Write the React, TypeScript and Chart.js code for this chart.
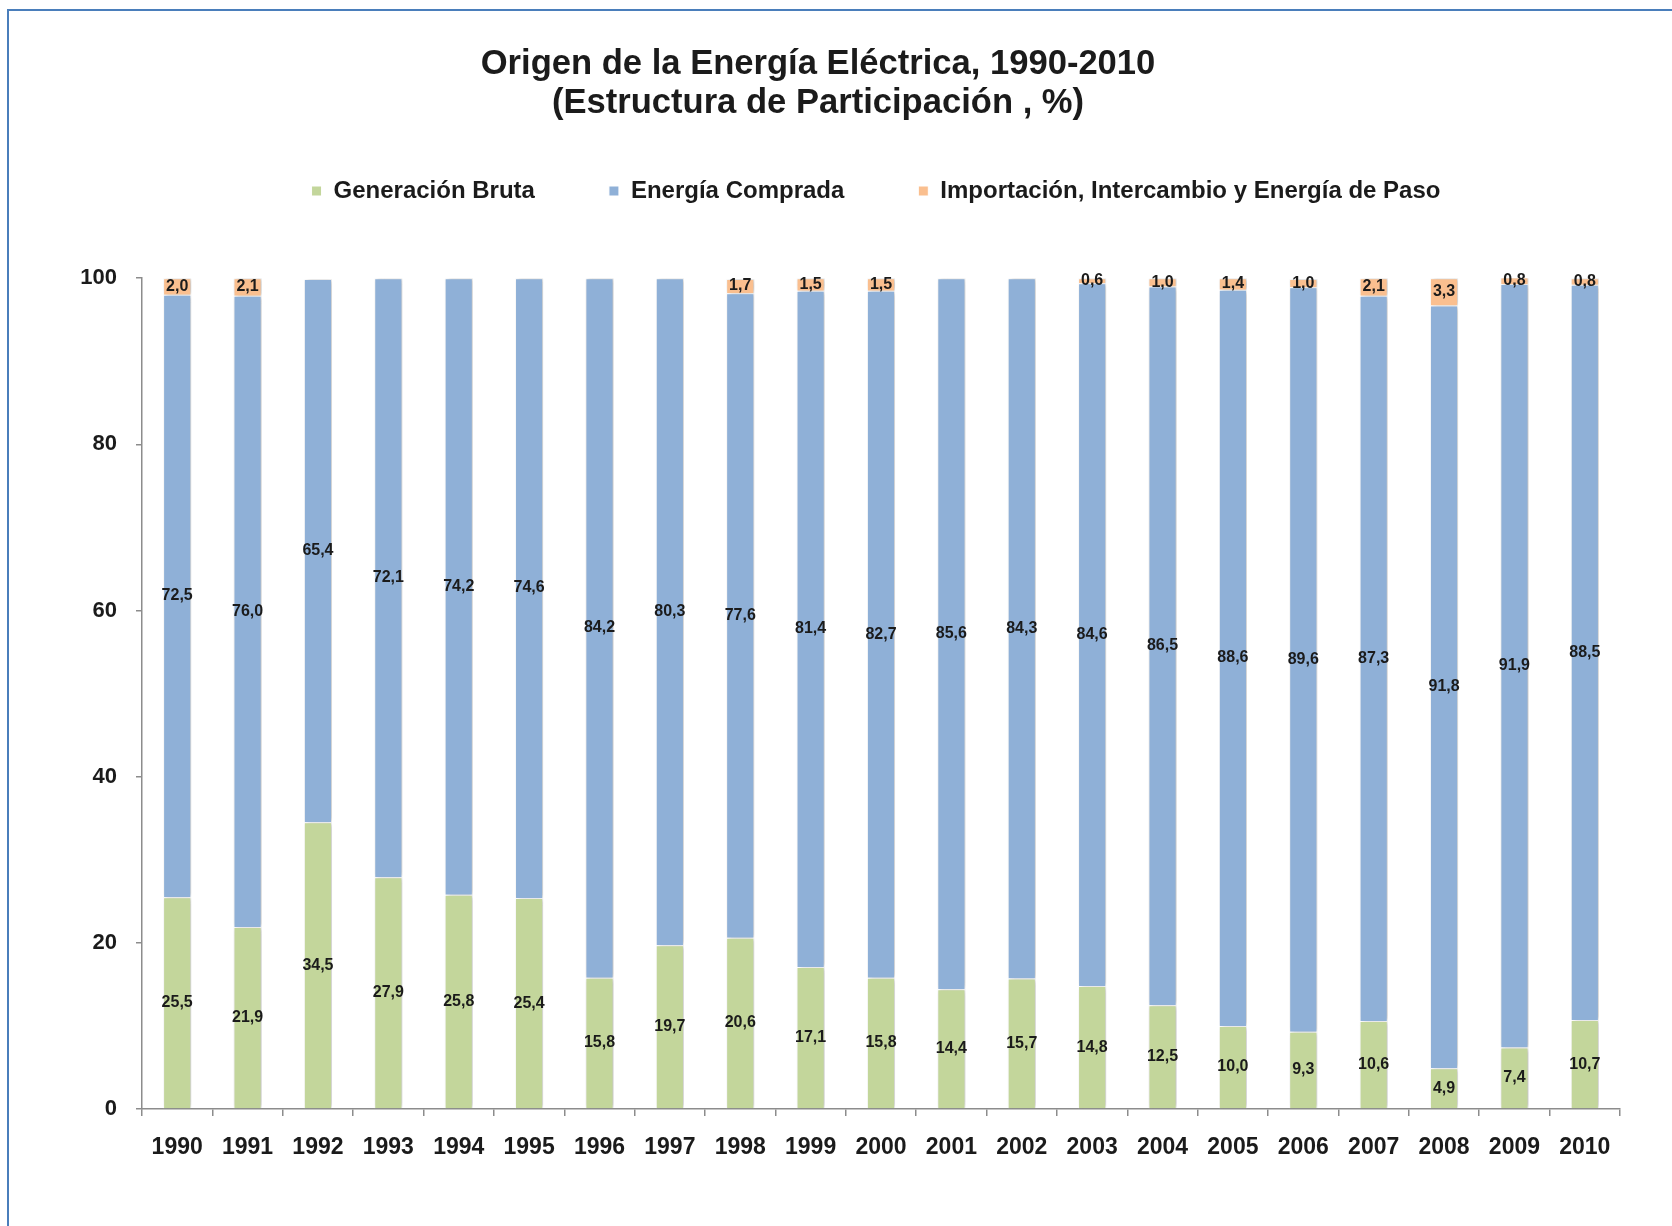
import React, { useEffect, useRef } from 'react';
import { Chart, registerables } from 'chart.js';

Chart.register(...registerables);

const years = ['1990', '1991', '1992', '1993', '1994', '1995', '1996', '1997', '1998', '1999', '2000', '2001', '2002', '2003', '2004', '2005', '2006', '2007', '2008', '2009', '2010'];
const generacionBruta = [25.5, 21.9, 34.5, 27.9, 25.8, 25.4, 15.8, 19.7, 20.6, 17.1, 15.8, 14.4, 15.7, 14.8, 12.5, 10.0, 9.3, 10.6, 4.9, 7.4, 10.7];
const energiaComprada = [72.5, 76.0, 65.4, 72.1, 74.2, 74.6, 84.2, 80.3, 77.6, 81.4, 82.7, 85.6, 84.3, 84.6, 86.5, 88.6, 89.6, 87.3, 91.8, 91.9, 88.5];
const importacion = [2.0, 2.1, null, null, null, null, null, null, 1.7, 1.5, 1.5, null, null, 0.6, 1.0, 1.4, 1.0, 2.1, 3.3, 0.8, 0.8];
const seriesNames = ['Generación Bruta', 'Energía Comprada', 'Importación, Intercambio y Energía de Paso'];
const titleLines = ['Origen de la Energía Eléctrica, 1990-2010', '(Estructura de Participación , %)'];

const FONT = "'Liberation Sans', Arial, Helvetica, sans-serif";
const TEXT = '#1b1b1b';

const shadowPlugin = {
  id: 'barShadow',
  beforeDatasetsDraw(chart: any) {
    const ctx = chart.ctx;
    ctx.save();
    ctx.shadowColor = 'rgba(0,0,0,0.26)';
    ctx.shadowBlur = 5;
    ctx.shadowOffsetX = 2;
    ctx.shadowOffsetY = 0;
  },
  afterDatasetsDraw(chart: any) {
    chart.ctx.restore();
  },
};

const valueLabels = {
  id: 'valueLabels',
  afterDatasetsDraw(chart: any) {
    const ctx = chart.ctx;
    ctx.save();
    ctx.font = `bold 16px ${FONT}`;
    ctx.fillStyle = TEXT;
    ctx.textAlign = 'center';
    ctx.textBaseline = 'middle';
    chart.data.datasets.forEach((ds: any, di: number) => {
      const meta = chart.getDatasetMeta(di);
      meta.data.forEach((bar: any, i: number) => {
        const v = ds.data[i];
        if (v === null || v === undefined) return;
        const { x, y, base } = bar.getProps(['x', 'y', 'base'], true);
        ctx.fillText(v.toFixed(1).replace('.', ','), x, (y + base) / 2);
      });
    });
    ctx.restore();
  },
};

const legendPlacer = {
  id: 'legendPlacer',
  afterLayout(chart: any) {
    const lg = chart.legend;
    if (!lg) return;
    const pad = lg.options.labels.padding;
    const fs = lg.options.labels.font.size;
    const w = lg.right - lg.left;
    const h = lg.bottom - lg.top;
    const cx = 876;
    const cy = 191;
    lg.left = cx - w / 2;
    lg.right = lg.left + w;
    lg.top = cy - pad - fs / 2;
    lg.bottom = lg.top + h;
  },
};

export default function App() {
  const ref = useRef<HTMLCanvasElement | null>(null);

  useEffect(() => {
    if (!ref.current) return;
    const chart = new Chart(ref.current, {
      type: 'bar',
      data: {
        labels: years,
        datasets: [
          { label: seriesNames[0], data: generacionBruta, backgroundColor: '#C3D69B', borderColor: '#FFFFFF', borderWidth: 1 },
          { label: seriesNames[1], data: energiaComprada, backgroundColor: '#8FB0D7', borderColor: '#FFFFFF', borderWidth: 1 },
          { label: seriesNames[2], data: importacion, backgroundColor: '#FABF8F', borderColor: '#FFFFFF', borderWidth: 1 },
        ],
      },
      options: {
        responsive: false,
        animation: false,
        events: [],
        datasets: { bar: { barPercentage: 0.4, categoryPercentage: 1 } },
        layout: { padding: { left: 16, right: 52, top: 0, bottom: 0 } },
        plugins: {
          title: {
            display: true,
            text: titleLines,
            color: TEXT,
            font: { family: FONT, size: 34.6, weight: 'bold', lineHeight: 1.13 },
            padding: { top: 44.5, bottom: 47.5 },
          },
          legend: {
            display: true,
            position: 'top',
            labels: {
              color: TEXT,
              font: { family: FONT, size: 24, weight: 'bold' },
              boxWidth: 10,
              boxHeight: 10,
              padding: 74,
            },
          },
          tooltip: { enabled: false },
        },
        scales: {
          x: {
            stacked: true,
            grid: { display: true, drawOnChartArea: false, drawTicks: true, tickLength: 7, color: '#8C8C8C', lineWidth: 1.5 },
            border: { display: true, color: '#8C8C8C', width: 1.5 },
            ticks: { color: TEXT, font: { family: FONT, size: 23, weight: 'bold' }, padding: 18, maxRotation: 0, autoSkip: false },
            afterFit(scale: any) { scale.height = 117; },
          },
          y: {
            stacked: true,
            min: 0,
            max: 100,
            grid: { display: true, drawOnChartArea: false, drawTicks: true, tickLength: 6, color: '#8C8C8C', lineWidth: 1.5 },
            border: { display: true, color: '#8C8C8C', width: 1.5 },
            ticks: { stepSize: 20, color: TEXT, font: { family: FONT, size: 22, weight: 'bold' }, padding: 19 },
            afterFit(scale: any) { scale.width = 126; },
          },
        },
      },
      plugins: [shadowPlugin, valueLabels, legendPlacer],
    } as any);
    return () => chart.destroy();
  }, []);

  return (
    <div style={{ position: 'absolute', left: 0, top: 0, width: 1672, height: 1226, overflow: 'hidden', background: '#FFFFFF' }}>
      <div style={{ position: 'absolute', left: 7, top: 9, right: 0, bottom: 0, borderTop: '2px solid #4A7EBB', borderLeft: '2px solid #4A7EBB' }} />
      <canvas ref={ref} width={1672} height={1226} style={{ position: 'absolute', left: 0, top: 0, width: 1672, height: 1226 }} />
    </div>
  );
}
